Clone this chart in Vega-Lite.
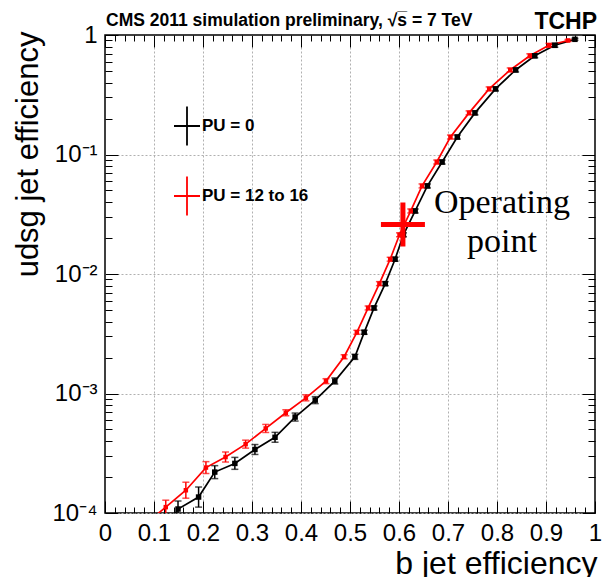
{
  "$schema": "https://vega.github.io/schema/vega-lite/v6.json",
  "width": 490,
  "height": 478,
  "autosize": {"type": "none"},
  "padding": {"left": 105, "top": 35, "right": 7, "bottom": 64},
  "datasets": {
    "curves": [
      {"series": "PU = 0", "x": 0.13, "y": 0.00008, "lo": 0.00008, "hi": 0.00008},
      {"series": "PU = 0", "x": 0.149, "y": 0.000108, "lo": 0.0000926, "hi": 0.000126},
      {"series": "PU = 0", "x": 0.191, "y": 0.000136, "lo": 0.000112, "hi": 0.000165},
      {"series": "PU = 0", "x": 0.224, "y": 0.00022, "lo": 0.000194, "hi": 0.000249},
      {"series": "PU = 0", "x": 0.265, "y": 0.00026, "lo": 0.000232, "hi": 0.000292},
      {"series": "PU = 0", "x": 0.306, "y": 0.00034, "lo": 0.000309, "hi": 0.000374},
      {"series": "PU = 0", "x": 0.347, "y": 0.00043, "lo": 0.000391, "hi": 0.000473},
      {"series": "PU = 0", "x": 0.388, "y": 0.000635, "lo": 0.000588, "hi": 0.000686},
      {"series": "PU = 0", "x": 0.429, "y": 0.00088, "lo": 0.000823, "hi": 0.000941},
      {"series": "PU = 0", "x": 0.469, "y": 0.00127, "lo": 0.0012, "hi": 0.00135},
      {"series": "PU = 0", "x": 0.51, "y": 0.00203, "lo": 0.00193, "hi": 0.00213},
      {"series": "PU = 0", "x": 0.529, "y": 0.00325, "lo": 0.00313, "hi": 0.00338},
      {"series": "PU = 0", "x": 0.549, "y": 0.0052, "lo": 0.005, "hi": 0.0054},
      {"series": "PU = 0", "x": 0.572, "y": 0.0083, "lo": 0.00799, "hi": 0.00863},
      {"series": "PU = 0", "x": 0.592, "y": 0.0133, "lo": 0.0128, "hi": 0.0138},
      {"series": "PU = 0", "x": 0.609, "y": 0.0213, "lo": 0.0205, "hi": 0.0221},
      {"series": "PU = 0", "x": 0.633, "y": 0.0337, "lo": 0.0324, "hi": 0.035},
      {"series": "PU = 0", "x": 0.658, "y": 0.0546, "lo": 0.0525, "hi": 0.0567},
      {"series": "PU = 0", "x": 0.688, "y": 0.0865, "lo": 0.0832, "hi": 0.0899},
      {"series": "PU = 0", "x": 0.719, "y": 0.14, "lo": 0.1347, "hi": 0.1455},
      {"series": "PU = 0", "x": 0.755, "y": 0.223, "lo": 0.2146, "hi": 0.2318},
      {"series": "PU = 0", "x": 0.797, "y": 0.354, "lo": 0.3406, "hi": 0.3679},
      {"series": "PU = 0", "x": 0.838, "y": 0.51, "lo": 0.4907, "hi": 0.53},
      {"series": "PU = 0", "x": 0.877, "y": 0.67, "lo": 0.6447, "hi": 0.6963},
      {"series": "PU = 0", "x": 0.918, "y": 0.82, "lo": 0.789, "hi": 0.852},
      {"series": "PU = 0", "x": 0.959, "y": 0.92, "lo": 0.9025, "hi": 0.9378},
      {"series": "PU = 12 to 16", "x": 0.083, "y": 0.000081, "lo": 0.000081, "hi": 0.000081},
      {"series": "PU = 12 to 16", "x": 0.124, "y": 0.000112, "lo": 0.0000979, "hi": 0.000128},
      {"series": "PU = 12 to 16", "x": 0.165, "y": 0.000155, "lo": 0.000133, "hi": 0.000181},
      {"series": "PU = 12 to 16", "x": 0.206, "y": 0.00024, "lo": 0.000214, "hi": 0.000269},
      {"series": "PU = 12 to 16", "x": 0.246, "y": 0.000294, "lo": 0.000267, "hi": 0.000324},
      {"series": "PU = 12 to 16", "x": 0.287, "y": 0.000377, "lo": 0.000349, "hi": 0.000407},
      {"series": "PU = 12 to 16", "x": 0.328, "y": 0.00051, "lo": 0.000472, "hi": 0.000551},
      {"series": "PU = 12 to 16", "x": 0.369, "y": 0.00069, "lo": 0.000651, "hi": 0.000731},
      {"series": "PU = 12 to 16", "x": 0.41, "y": 0.00092, "lo": 0.000868, "hi": 0.000975},
      {"series": "PU = 12 to 16", "x": 0.451, "y": 0.00127, "lo": 0.00121, "hi": 0.00133},
      {"series": "PU = 12 to 16", "x": 0.488, "y": 0.00203, "lo": 0.00195, "hi": 0.00211},
      {"series": "PU = 12 to 16", "x": 0.514, "y": 0.00325, "lo": 0.00313, "hi": 0.00338},
      {"series": "PU = 12 to 16", "x": 0.537, "y": 0.0052, "lo": 0.005, "hi": 0.0054},
      {"series": "PU = 12 to 16", "x": 0.56, "y": 0.0083, "lo": 0.00799, "hi": 0.00863},
      {"series": "PU = 12 to 16", "x": 0.582, "y": 0.0133, "lo": 0.0128, "hi": 0.0138},
      {"series": "PU = 12 to 16", "x": 0.601, "y": 0.0213, "lo": 0.0205, "hi": 0.0221},
      {"series": "PU = 12 to 16", "x": 0.624, "y": 0.0337, "lo": 0.0324, "hi": 0.035},
      {"series": "PU = 12 to 16", "x": 0.647, "y": 0.0546, "lo": 0.0525, "hi": 0.0567},
      {"series": "PU = 12 to 16", "x": 0.677, "y": 0.0865, "lo": 0.0832, "hi": 0.0899},
      {"series": "PU = 12 to 16", "x": 0.705, "y": 0.14, "lo": 0.1347, "hi": 0.1455},
      {"series": "PU = 12 to 16", "x": 0.743, "y": 0.223, "lo": 0.2146, "hi": 0.2318},
      {"series": "PU = 12 to 16", "x": 0.784, "y": 0.354, "lo": 0.3406, "hi": 0.3679},
      {"series": "PU = 12 to 16", "x": 0.827, "y": 0.51, "lo": 0.4907, "hi": 0.53},
      {"series": "PU = 12 to 16", "x": 0.867, "y": 0.67, "lo": 0.6447, "hi": 0.6963},
      {"series": "PU = 12 to 16", "x": 0.906, "y": 0.82, "lo": 0.789, "hi": 0.852},
      {"series": "PU = 12 to 16", "x": 0.945, "y": 0.9, "lo": 0.883, "hi": 0.917}
    ],
    "annotations": [
      {"label": "Operating point", "x": 0.608, "y": 0.026}
    ]
  },
  "resolve": {"axis": {"x": "independent", "y": "independent"}},
  "layer": [
    {
      "data": {"name": "curves"},
      "mark": {"type": "line", "clip": true, "strokeWidth": 1.7},
      "encoding": {
        "x": {
          "field": "x", "type": "quantitative",
          "scale": {"domain": [0, 1], "nice": false, "zero": false},
          "axis": {
            "orient": "bottom",
            "domain": false,
            "ticks": false,
            "values": [0,0.1,0.2,0.3,0.4,0.5,0.6,0.7,0.8,0.9,1],
            "labelExpr": "format(datum.value, '~g')",
            "grid": true,
            "gridDash": [2, 2],
            "gridColor": "#b0b0b0",
            "gridOpacity": {"condition": {"test": "datum.value > 0.01 && datum.value < 0.99", "value": 1}, "value": 0},
            "labelFontSize": 24,
            "labelPadding": 8,
            "labelColor": "black",
            "labelOverlap": false,
            "labelFlush": false,
            "labelBound": false,
            "title": "b jet efficiency",
            "titleFontSize": 32,
            "titleFontWeight": "normal",
            "titleColor": "black",
            "titleAlign": "right",
            "titleAnchor": "end",
            "titleBaseline": "alphabetic",
            "titleX": 492,
            "titleY": 60
          }
        },
        "y": {
          "field": "y", "type": "quantitative",
          "scale": {"type": "log", "domain": [0.0001, 1], "nice": false},
          "axis": {
            "orient": "left",
            "domain": false,
            "ticks": false,
            "values": [0.0001, 0.001, 0.01, 0.1, 1],
            "labelExpr": "round(log(datum.value)/LN10) == 0 ? '1' : '10' + ['', '⁻¹', '⁻²', '⁻³', '⁻⁴'][-round(log(datum.value)/LN10)]",
            "grid": true,
            "gridDash": [2, 2],
            "gridColor": "#b0b0b0",
            "gridOpacity": {"condition": {"test": "datum.value < 0.5", "value": 1}, "value": 0},
            "labelFontSize": 24,
            "labelPadding": 8,
            "labelColor": "black",
            "labelOverlap": false,
            "labelFlush": false,
            "labelBound": false,
            "title": "udsg jet efficiency",
            "titleFontSize": 31,
            "titleFontWeight": "normal",
            "titleColor": "black",
            "titleAngle": 270,
            "titleAlign": "right",
            "titleAnchor": "end",
            "titleBaseline": "alphabetic",
            "titleX": -68,
            "titleY": -4
          }
        },
        "color": {
          "field": "series", "type": "nominal",
          "scale": {"domain": ["PU = 0", "PU = 12 to 16"], "range": ["#000000", "#ff0000"]},
          "legend": {
            "orient": "none",
            "legendX": 68,
            "legendY": 77,
            "title": null,
            "padding": 0,
            "symbolType": "M-1,0H1M0,-1.5V1.5",
            "symbolSize": 676,
            "symbolStrokeWidth": 1.8,
            "labelFont": "Liberation Sans",
            "labelFontSize": 17,
            "labelFontWeight": "bold",
            "labelColor": "black",
            "labelOffset": 1,
            "rowPadding": 22
          }
        }
      }
    },
    {
      "data": {"name": "curves"},
      "mark": {"type": "rule", "clip": true, "strokeWidth": 1.5},
      "encoding": {
        "x": {"field": "x", "type": "quantitative",
          "axis": {"orient": "bottom", "offset": -12, "tickSize": 12, "tickColor": "black", "tickWidth": 1, "domain": false, "labels": false, "grid": false, "title": null,
            "values": [0,0.1,0.2,0.3,0.4,0.5,0.6,0.7,0.8,0.9,1]}},
        "y": {"field": "lo", "type": "quantitative",
          "axis": {"orient": "left", "offset": -13, "tickSize": 13, "tickColor": "black", "tickWidth": 1, "domain": false, "labels": false, "grid": false, "title": null,
            "values": [0.0001, 0.001, 0.01, 0.1, 1]}},
        "y2": {"field": "hi"},
        "color": {"field": "series", "type": "nominal", "legend": null}
      }
    },
    {
      "data": {"name": "curves"},
      "mark": {"type": "tick", "clip": true, "orient": "horizontal", "size": 7, "thickness": 1.5},
      "encoding": {
        "x": {"field": "x", "type": "quantitative",
          "axis": {"orient": "bottom", "offset": -6, "tickSize": 6, "tickColor": "black", "tickWidth": 1, "domain": false, "labels": false, "grid": false, "title": null,
            "values": [0.02,0.04,0.06,0.08,0.12,0.14,0.16,0.18,0.22,0.24,0.26,0.28,0.32,0.34,0.36,0.38,0.42,0.44,0.46,0.48,0.52,0.54,0.56,0.58,0.62,0.64,0.66,0.68,0.72,0.74,0.76,0.78,0.82,0.84,0.86,0.88,0.92,0.94,0.96,0.98]}},
        "y": {"field": "lo", "type": "quantitative",
          "axis": {"orient": "left", "offset": -7, "tickSize": 7, "tickColor": "black", "tickWidth": 1, "domain": false, "labels": false, "grid": false, "title": null,
            "values": [0.0002,0.0003,0.0004,0.0005,0.0006,0.0007,0.0008,0.0009,0.002,0.003,0.004,0.005,0.006,0.007,0.008,0.009,0.02,0.03,0.04,0.05,0.06,0.07,0.08,0.09,0.2,0.3,0.4,0.5,0.6,0.7,0.8,0.9]}},
        "color": {"field": "series", "type": "nominal", "legend": null}
      }
    },
    {
      "data": {"name": "curves"},
      "mark": {"type": "tick", "clip": true, "orient": "horizontal", "size": 7, "thickness": 1.5},
      "encoding": {
        "x": {"field": "x", "type": "quantitative",
          "axis": {"orient": "top", "offset": -12, "tickSize": 12, "tickColor": "black", "tickWidth": 1, "domain": false, "labels": false, "grid": false, "title": null,
            "values": [0,0.1,0.2,0.3,0.4,0.5,0.6,0.7,0.8,0.9,1]}},
        "y": {"field": "hi", "type": "quantitative",
          "axis": {"orient": "right", "offset": -13, "tickSize": 13, "tickColor": "black", "tickWidth": 1, "domain": false, "labels": false, "grid": false, "title": null,
            "values": [0.0001, 0.001, 0.01, 0.1, 1]}},
        "color": {"field": "series", "type": "nominal", "legend": null}
      }
    },
    {
      "data": {"name": "curves"},
      "transform": [{"filter": "datum.series == 'PU = 0'"}],
      "mark": {"type": "point", "shape": "square", "filled": true, "opacity": 1, "clip": true, "size": 30},
      "encoding": {
        "x": {"field": "x", "type": "quantitative",
          "axis": {"orient": "top", "offset": -6, "tickSize": 6, "tickColor": "black", "tickWidth": 1, "domain": false, "labels": false, "grid": false, "title": null,
            "values": [0.02,0.04,0.06,0.08,0.12,0.14,0.16,0.18,0.22,0.24,0.26,0.28,0.32,0.34,0.36,0.38,0.42,0.44,0.46,0.48,0.52,0.54,0.56,0.58,0.62,0.64,0.66,0.68,0.72,0.74,0.76,0.78,0.82,0.84,0.86,0.88,0.92,0.94,0.96,0.98]}},
        "y": {"field": "y", "type": "quantitative",
          "axis": {"orient": "right", "offset": -7, "tickSize": 7, "tickColor": "black", "tickWidth": 1, "domain": false, "labels": false, "grid": false, "title": null,
            "values": [0.0002,0.0003,0.0004,0.0005,0.0006,0.0007,0.0008,0.0009,0.002,0.003,0.004,0.005,0.006,0.007,0.008,0.009,0.02,0.03,0.04,0.05,0.06,0.07,0.08,0.09,0.2,0.3,0.4,0.5,0.6,0.7,0.8,0.9]}},
        "color": {"field": "series", "type": "nominal", "legend": null}
      }
    },
    {
      "data": {"name": "curves"},
      "transform": [{"filter": "datum.series == 'PU = 12 to 16'"}],
      "mark": {"type": "point", "shape": "square", "filled": true, "opacity": 1, "clip": true, "size": 20},
      "encoding": {
        "x": {"field": "x", "type": "quantitative", "axis": null},
        "y": {"field": "y", "type": "quantitative", "axis": null},
        "color": {"field": "series", "type": "nominal", "legend": null}
      }
    },
    {
      "data": {"name": "annotations"},
      "mark": {"type": "point", "shape": "M-1,0H1M0,-1V1", "filled": false, "stroke": "#ff0000", "strokeWidth": 5, "size": 1936, "opacity": 1},
      "encoding": {
        "x": {"field": "x", "type": "quantitative", "axis": null},
        "y": {"field": "y", "type": "quantitative", "axis": null}
      }
    },
    {
      "data": {"values": [{}]},
      "mark": {"type": "text", "text": ["Operating", "point"], "font": "Liberation Serif", "fontSize": 34, "align": "center", "baseline": "alphabetic", "lineHeight": 39, "fill": "black"},
      "encoding": {
        "x": {"datum": 0.81, "type": "quantitative", "axis": null},
        "y": {"datum": 0.0324, "type": "quantitative", "axis": null}
      }
    },
    {
      "data": {"values": [{}]},
      "mark": {"type": "text", "text": "TCHP", "font": "Liberation Sans", "fontSize": 23, "fontWeight": "bold", "align": "right", "baseline": "alphabetic", "dx": 2, "dy": -6, "fill": "black"},
      "encoding": {
        "x": {"datum": 1, "type": "quantitative", "axis": null},
        "y": {"datum": 1, "type": "quantitative", "axis": null}
      }
    },
    {
      "data": {"values": [{}]},
      "mark": {"type": "text", "text": "CMS 2011 simulation preliminary, √s̅ = 7 TeV", "font": "Liberation Sans", "fontSize": 17.5, "fontWeight": "bold", "align": "left", "baseline": "alphabetic", "dx": 1, "dy": -9, "fill": "black"},
      "encoding": {
        "x": {"datum": 0, "type": "quantitative", "axis": null},
        "y": {"datum": 1, "type": "quantitative", "axis": null}
      }
    }
  ],
  "config": {
    "font": "Liberation Sans",
    "view": {"stroke": "#000000", "strokeWidth": 1.5},
    "background": "white"
  }
}
